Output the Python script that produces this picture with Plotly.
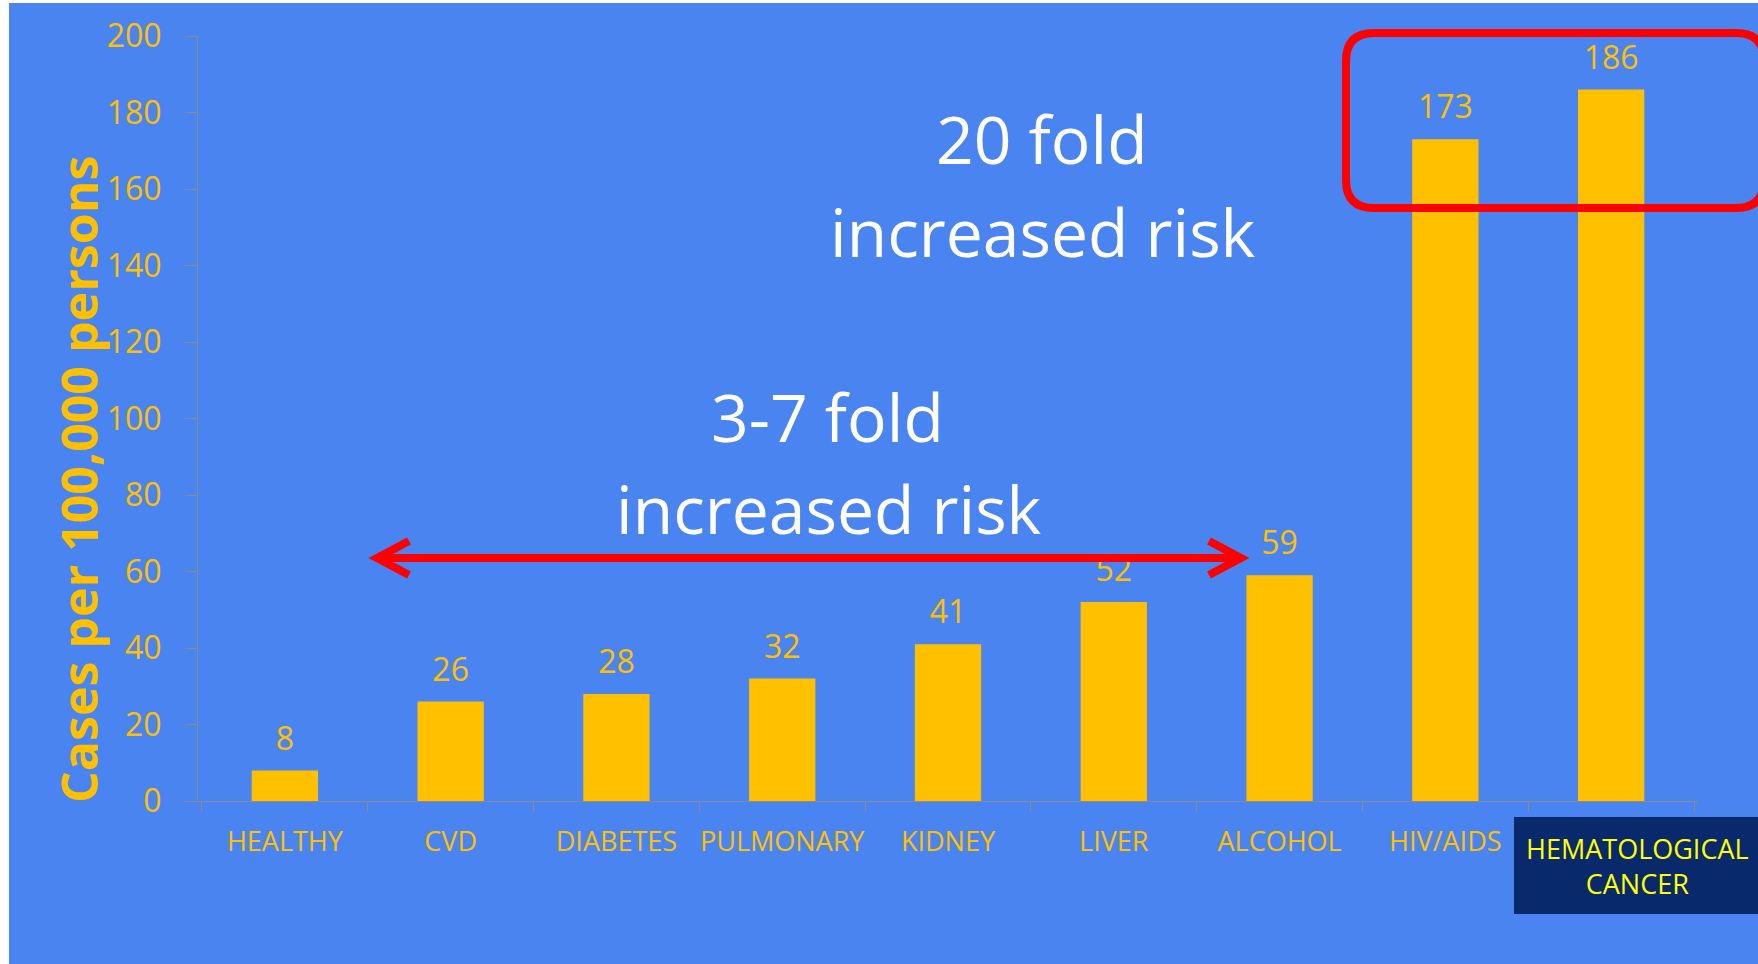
import plotly.graph_objects as go

# ---- data ----
categories = ["HEALTHY", "CVD", "DIABETES", "PULMONARY", "KIDNEY", "LIVER",
              "ALCOHOL", "HIV/AIDS", "HEMATOLOGICAL CANCER"]
values = [8, 26, 28, 32, 41, 52, 59, 173, 186]
y_ticks = [0, 20, 40, 60, 80, 100, 120, 140, 160, 180, 200]
# last category's label is drawn in its own highlighted box instead of on the axis
x_ticktext = ["HEALTHY", "CVD", "DIABETES", "PULMONARY", "KIDNEY", "LIVER",
              "ALCOHOL", "HIV/AIDS", ""]
y_title = "Cases per 100,000 persons"
note_low = ["3-7 fold", "increased risk"]
note_high = ["20 fold", "increased risk"]
box_label = "HEMATOLOGICAL<br>CANCER"

# ---- style ----
BLUE = "#4A84F0"
ORANGE = "#FFC000"
GRAY = "#8A8A8A"
RED = "#FF0000"
NAVY = "#08296C"
FONT = "Open Sans"

# plot-area geometry (pixels) used to convert decorations to paper coords
L, R, T, B = 198, 60, 36, 163
W, H = 1758, 964
PW, PH = W - L - R, H - T - B


def px(x):
    return (x - L) / PW


def py(y):
    return (H - B - y) / PH


fig = go.Figure()
fig.add_trace(go.Bar(
    x=categories, y=values, width=0.4,
    marker=dict(color=ORANGE, line=dict(width=0)),
    hoverinfo="skip",
))
fig.add_trace(go.Scatter(
    x=categories, y=values, mode="markers+text",
    text=[str(v) for v in values], textposition="top center",
    textfont=dict(family=FONT, size=32, color=ORANGE),
    marker=dict(size=19, color="rgba(0,0,0,0)"),
    cliponaxis=False, hoverinfo="skip",
))

shapes = []
# white strips at left / top edge
shapes.append(dict(type="rect", xref="paper", yref="paper", x0=px(-5), x1=px(9),
                   y0=py(970), y1=py(-5), fillcolor="white", line=dict(width=0), layer="above"))
shapes.append(dict(type="rect", xref="paper", yref="paper", x0=px(-5), x1=px(1765),
                   y0=py(3), y1=py(-5), fillcolor="white", line=dict(width=0), layer="above"))

# red rounded rectangle
x0, x1, yt, yb = px(1346), px(1764), py(33), py(208)
rx, ry = 28 / PW, 28 / PH
path = (f"M{x0+rx},{yt} L{x1-rx},{yt} Q{x1},{yt} {x1},{yt-ry} L{x1},{yb+ry} "
        f"Q{x1},{yb} {x1-rx},{yb} L{x0+rx},{yb} Q{x0},{yb} {x0},{yb+ry} "
        f"L{x0},{yt-ry} Q{x0},{yt} {x0+rx},{yt} Z")
shapes.append(dict(type="path", xref="paper", yref="paper", path=path,
                   line=dict(color=RED, width=8), layer="above"))

# red double-headed arrow
ay = py(558)
lx, rxp = px(377), px(1241)
adx, ady = 32 / PW, 17 / PH
apath = (f"M{lx},{ay} L{rxp},{ay} "
         f"M{lx+adx},{ay+ady} L{lx},{ay} L{lx+adx},{ay-ady} "
         f"M{rxp-adx},{ay+ady} L{rxp},{ay} L{rxp-adx},{ay-ady}")
shapes.append(dict(type="path", xref="paper", yref="paper", path=apath,
                   line=dict(color=RED, width=8), layer="above"))

# navy label box
shapes.append(dict(type="rect", xref="paper", yref="paper", x0=px(1514), x1=px(1765),
                   y0=py(914), y1=py(817), fillcolor=NAVY, line=dict(width=0), layer="above"))

annotations = []
annotations.append(dict(text=y_title, textangle=-90, xref="paper", yref="paper",
                        x=px(79), y=py(480), xanchor="center", yanchor="middle",
                        showarrow=False,
                        font=dict(family=FONT, size=50, color=ORANGE, weight=700)))
for txt, cx, cy in [(note_high[0], 1042, 138), (note_high[1], 1043, 231),
                    (note_low[0], 827, 416), (note_low[1], 829, 508)]:
    annotations.append(dict(text=txt, xref="paper", yref="paper", x=px(cx), y=py(cy),
                            xanchor="center", yanchor="middle", showarrow=False,
                            font=dict(family=FONT, size=66, color="white")))
annotations.append(dict(text=box_label, xref="paper", yref="paper", x=px(1637), y=py(866),
                        xanchor="center", yanchor="middle", showarrow=False, align="center",
                        font=dict(family=FONT, size=27, color="#FFFF00")))

fig.update_layout(
    width=W, height=H,
    margin=dict(l=L, r=R, t=T, b=B, autoexpand=False),
    paper_bgcolor=BLUE, plot_bgcolor=BLUE,
    showlegend=False,
    shapes=shapes, annotations=annotations,
    xaxis=dict(type="category", showline=True, linecolor=GRAY, linewidth=1,
               tickmode="array", tickvals=categories, ticktext=x_ticktext,
               ticks="outside", ticklen=10, tickcolor=GRAY, tickwidth=1,
               tickson="boundaries", showgrid=False, zeroline=False, tickangle=0,
               tickfont=dict(family=FONT, size=27, color=ORANGE),
               ticklabelstandoff=17, automargin=False),
    yaxis=dict(range=[0, 200], tickvals=y_ticks, showline=True, linecolor=GRAY,
               linewidth=1, ticks="outside", ticklen=12, tickcolor=GRAY, tickwidth=1,
               showgrid=False, zeroline=False,
               tickfont=dict(family=FONT, size=32, color=ORANGE),
               ticklabelstandoff=17, automargin=False),
)

fig.write_html("out.html")
